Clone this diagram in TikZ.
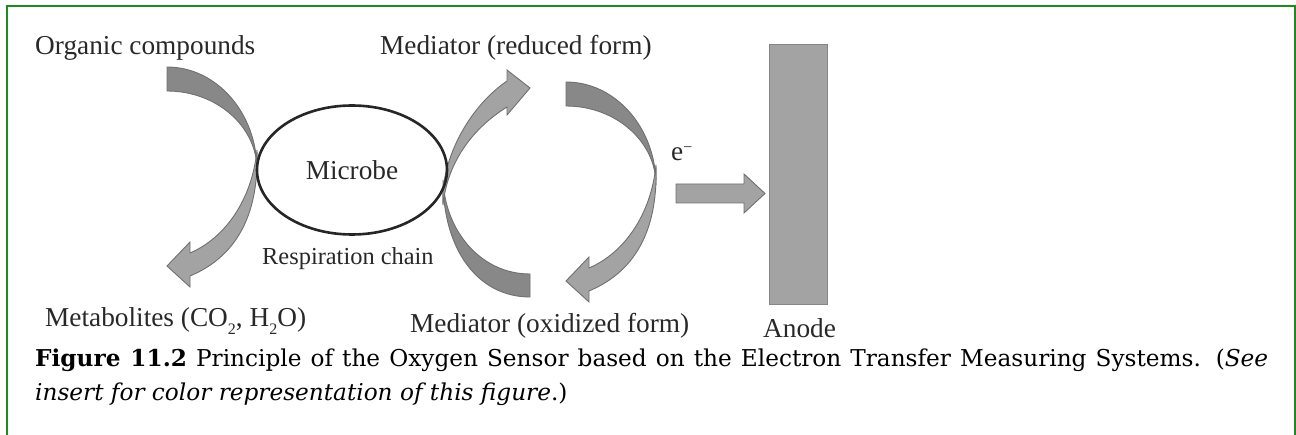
\documentclass[tikz,border=0pt]{standalone}
\usepackage{fontspec}
\setmainfont{Liberation Serif}
\newfontfamily\capfont{DejaVu Serif}
\usetikzlibrary{shapes.geometric}
\definecolor{framegreen}{RGB}{28,140,28}
\definecolor{darkfill}{RGB}{136,136,136}
\definecolor{lightfill}{RGB}{163,163,163}
\definecolor{edgegray}{RGB}{112,112,112}
\definecolor{labelcol}{RGB}{40,40,40}
\tikzset{
  lbl/.style={anchor=base west, inner sep=0pt, text=labelcol, font=\fontsize{27.3}{30}\selectfont},
  smalllbl/.style={anchor=base west, inner sep=0pt, text=labelcol, font=\fontsize{24.4}{28}\selectfont},
  caplbl/.style={anchor=base west, inner sep=0pt, text=black, font=\capfont\fontsize{23.2}{26}\selectfont},
  crescent/.style={fill=darkfill, draw=edgegray, line width=0.9pt},
  bendarrow/.style={fill=lightfill, draw=edgegray, line width=0.9pt},
  blockarrow/.style={fill=lightfill, draw=edgegray, line width=0.9pt},
}
\begin{document}
\begin{tikzpicture}[x=1pt, y=-1pt]
\useasboundingbox (0,0) rectangle (1296,435);
% frame
\draw[framegreen, line width=2pt] (7,440) -- (7,6) -- (1295,6) -- (1295,440);

% left crescent and arrow
\path[crescent] (167,67) .. controls (216.7,67) and (257,113.1) .. (257,170)
   .. controls (257,126.4) and (216.7,91) .. (167,91) -- cycle;
\path[bendarrow] (257,150) .. controls (259,210) and (240,255) .. (190,276)
   -- (190,287) -- (167,266) -- (190,242) -- (190,253)
   .. controls (225,238) and (252,200) .. (257,150) -- cycle;

% middle arrow and crescent
\path[crescent] (443,180) .. controls (443,250) and (478,297) .. (530,297)
   -- (530,274) .. controls (480,274) and (445,230) .. (443,180) -- cycle;
\path[bendarrow] (443,205) .. controls (440,165) and (465,110) .. (507,81)
   -- (507,70) -- (530,88) -- (507,115) -- (507,107)
   .. controls (470,130) and (447,165) .. (443,205) -- cycle;

% right crescent and arrow
\begin{scope}[shift={(399,15)}]
\path[crescent] (167,67) .. controls (216.7,67) and (257,113.1) .. (257,170)
   .. controls (257,126.4) and (216.7,91) .. (167,91) -- cycle;
\path[bendarrow] (257,150) .. controls (259,210) and (240,255) .. (190,276)
   -- (190,287) -- (167,266) -- (190,242) -- (190,253)
   .. controls (225,238) and (252,200) .. (257,150) -- cycle;
\end{scope}

% microbe
\node[ellipse, draw=black!85, line width=2.6pt, minimum width=190pt, minimum height=129pt,
      inner sep=0pt, text=labelcol, font=\fontsize{27.3}{30}\selectfont] (microbe) at (352,170) {Microbe};

% anode
\node[fill=lightfill, draw=edgegray!85, line width=1pt, minimum width=58pt, minimum height=260pt,
      inner sep=0pt] (anode) at (798,175) {};

% electron arrow
\path[blockarrow] (676,184) -- (744,184) -- (744,174) -- (765,193.5) -- (744,213) -- (744,203) -- (676,203) -- cycle;

% labels
\node[lbl] (organic) at (35,55) {Organic compounds};
\node[lbl] (medred) at (380,55) {Mediator (reduced form)};
\node[smalllbl] (resp) at (262,265) {Respiration chain};
\node[lbl] (metab) at (45,327) {Metabolites (CO\raisebox{-0.28em}{\fontsize{16}{16}\selectfont 2}, H\raisebox{-0.28em}{\fontsize{16}{16}\selectfont 2}O)};
\node[lbl] (medox) at (410,333) {Mediator (oxidized form)};
\node[lbl] (anodelbl) at (763,338) {Anode};
\node[lbl] (elec) at (671,161) {e\raisebox{0.3em}{\fontsize{16}{16}\selectfont\textminus}};

% caption
\node[caplbl] (cap1) at (35,367) {\makebox[1233pt][s]{\textbf{Figure 11.2} Principle of the Oxygen Sensor based on the Electron Transfer Measuring Systems. (\textit{See}}};
\node[caplbl] (cap2) at (35,401) {\textit{insert for color representation of this figure}.)};
\end{tikzpicture}
\end{document}
